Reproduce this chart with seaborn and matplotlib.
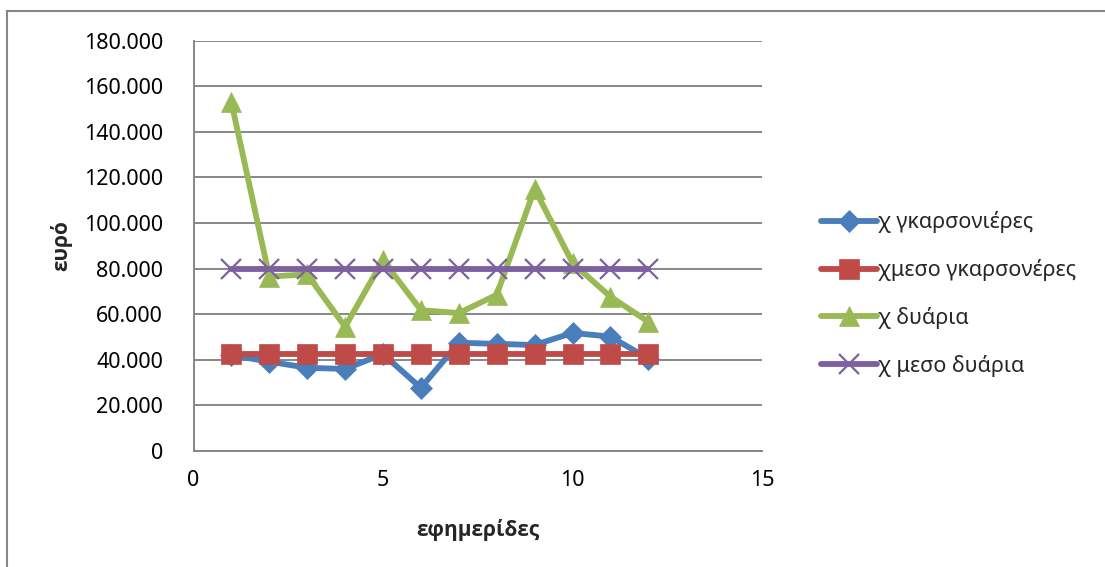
import matplotlib
matplotlib.use("Agg")
import matplotlib.pyplot as plt
import seaborn as sns
import pandas as pd
from matplotlib.patches import Rectangle
from matplotlib.ticker import FuncFormatter

# ---- data ----
x_days = [1, 2, 3, 4, 5, 6, 7, 8, 9, 10, 11, 12]
x_garsonieres = [42000, 39200, 36500, 36000, 42500, 27700, 47500, 47000, 46500, 51800, 50200, 40500]
x_meso_garsonieres = [42500] * 12
x_duaria = [153000, 76500, 77500, 54500, 83700, 61800, 60500, 68500, 115000, 82500, 67700, 56700]
x_meso_duaria = [80000] * 12

series_names = ["χ γκαρσονιέρες", "χμεσο γκαρσονέρες", "χ δυάρια", "χ μεσο δυάρια"]
series_values = [x_garsonieres, x_meso_garsonieres, x_duaria, x_meso_duaria]
colors = ["#4A7EBB", "#BE4B48", "#98B954", "#7D60A0"]
markers = ["D", "s", "^", "x"]
msizes = [11, 14, 15, 14]

x_ticks = [0, 5, 10, 15]
y_ticks = [0, 20000, 40000, 60000, 80000, 100000, 120000, 140000, 160000, 180000]

sns.set_theme(style="white")
plt.rcParams['font.family'] = ['Noto Sans', 'DejaVu Sans']

fig = plt.figure(figsize=(11.05, 5.67), dpi=100)
ax = fig.add_axes([193.5 / 1105, 1 - 451 / 567, (762 - 193.5) / 1105, (451 - 40.7) / 567])

for name, vals, c, m, ms in zip(series_names, series_values, colors, markers, msizes):
    df = pd.DataFrame({"x": x_days, "y": vals})
    sns.lineplot(data=df, x="x", y="y", ax=ax, color=c, linewidth=4.2,
                 marker=m, markersize=ms, markeredgecolor=c,
                 markeredgewidth=(1.6 if m == "x" else 0.5), label=name, zorder=3)

ax.set_xlim(0, 15)
ax.set_ylim(0, 180000)
ax.set_xticks(x_ticks)
ax.set_yticks(y_ticks)
ax.yaxis.set_major_formatter(FuncFormatter(lambda v, p: "0" if v == 0 else f"{int(v):,}".replace(",", ".")))
ax.tick_params(axis="both", length=0, labelsize=15.5, colors="black")
ax.tick_params(axis="y", pad=22)
ax.tick_params(axis="x", pad=14)

ax.grid(axis="y", color="#878787", linewidth=1.4)
ax.grid(axis="x", visible=False)
for s in ["top", "right"]:
    ax.spines[s].set_visible(False)
for s in ["left", "bottom"]:
    ax.spines[s].set_color("#878787")
    ax.spines[s].set_linewidth(1.4)

lab_fam = ['Open Sans', 'DejaVu Sans']
ax.set_xlabel("εφημερίδες", fontsize=15, fontweight="bold", family=lab_fam, labelpad=20)
ax.set_ylabel("ευρό", fontsize=15, fontweight="bold", family=lab_fam, labelpad=8)

ax.legend(loc="center left", bbox_to_anchor=(812 / 1105, 1 - 294 / 567), bbox_transform=fig.transFigure,
          frameon=False, fontsize=15.5, handlelength=2.6, handletextpad=0.05, labelspacing=1.2,
          borderaxespad=0)

fig.patches.append(Rectangle((7 / 1105, -0.05), 1.1, 1 - 11 / 567 + 0.05, transform=fig.transFigure,
                             fill=False, edgecolor="#878787", linewidth=1.5))

fig.savefig("out.png", dpi=100)
